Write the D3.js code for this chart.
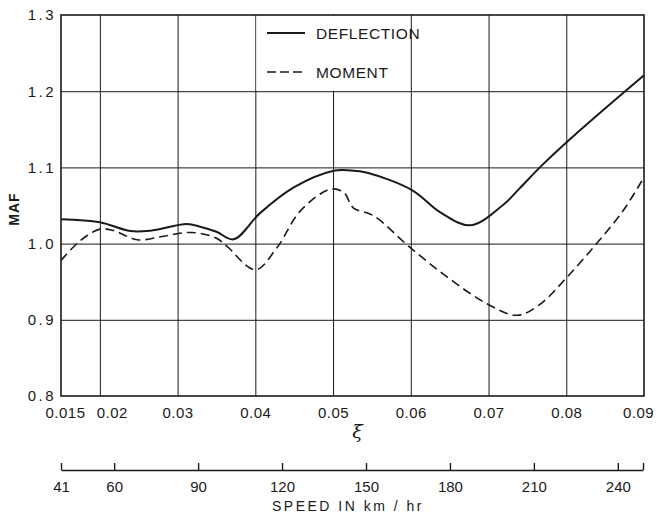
<!DOCTYPE html>
<html>
<head>
<meta charset="utf-8">
<script src="https://cdn.jsdelivr.net/npm/d3@7"></script>
<style>
  body { margin: 0; background: #fff; }
  text { font-family: "Liberation Sans", Arial, sans-serif; fill: #1a1a1a; }
</style>
</head>
<body>
<div id="container"></div>
<script>
/* CONSTANTS AND GLOBALS */
const width = 661,
  height = 517,
  plotLeft = 61,
  plotRight = 644,
  plotTop = 15,
  plotBottom = 396,
  speedY = 470,
  ink = "#1a1a1a";

/* DATA */
const xiTicks = [0.015, 0.02, 0.03, 0.04, 0.05, 0.06, 0.07, 0.08, 0.09];
const mafTicks = [0.8, 0.9, 1.0, 1.1, 1.2, 1.3];
const speedTicks = [41, 60, 90, 120, 150, 180, 210, 240, 249]; // 249 = unlabeled end mark
const seriesNames = ["DEFLECTION", "MOMENT"];

const deflectionXi = [0.015, 0.02, 0.0239, 0.0265, 0.0312, 0.0329, 0.035, 0.0372, 0.0406, 0.045, 0.0501, 0.0522,
  0.0544, 0.0602, 0.0638, 0.0677, 0.0719, 0.074, 0.0768, 0.0818, 0.09];
const deflectionMaf = [1.032, 1.028, 1.0165, 1.017, 1.0258, 1.0222, 1.0156, 1.0056, 1.04, 1.074, 1.0955, 1.096,
  1.093, 1.07, 1.041, 1.024, 1.051, 1.0725, 1.102, 1.149, 1.221];

const momentXi = [0.015, 0.0175, 0.02, 0.0218, 0.0248, 0.0278, 0.0312, 0.0329, 0.035, 0.0364, 0.04, 0.0428,
  0.0458, 0.0497, 0.0514, 0.0526, 0.0552, 0.0599, 0.0647, 0.0698, 0.0737, 0.0767, 0.0801, 0.0839, 0.0873, 0.09];
const momentMaf = [0.978, 1.004, 1.019, 1.017, 1.005, 1.009, 1.0145, 1.0135, 1.007, 0.996, 0.9656, 0.995,
  1.043, 1.0715, 1.067, 1.047, 1.0366, 0.995, 0.956, 0.921, 0.906, 0.921, 0.956, 1.0, 1.043, 1.087];

const series = [
  { name: seriesNames[0], dash: null, points: deflectionXi.map((x, i) => [x, deflectionMaf[i]]) },
  { name: seriesNames[1], dash: "9,5", points: momentXi.map((x, i) => [x, momentMaf[i]]) }
];

const svg = d3.select("#container")
  .append("svg")
  .attr("width", width)
  .attr("height", height)
  .style("background-color", "#fff");

/* SCALES */
const xScale = d3.scaleLinear().domain([0.015, 0.09]).range([plotLeft, plotRight]);
const yScale = d3.scaleLinear().domain([0.8, 1.3]).range([plotBottom, plotTop]);
const speedScale = d3.scaleLinear().domain([41, 249]).range([plotLeft, plotRight - 1]);

/* GRID */
const xGrid = svg.append("g")
  .attr("transform", `translate(0,${plotBottom})`)
  .call(d3.axisBottom(xScale).tickValues(xiTicks.slice(1, -1)).tickSize(-(plotBottom - plotTop)).tickFormat(""));
xGrid.select(".domain").remove();
xGrid.selectAll("line").attr("stroke", ink).attr("stroke-width", 1);

const yGrid = svg.append("g")
  .attr("transform", `translate(${plotLeft},0)`)
  .call(d3.axisLeft(yScale).tickValues(mafTicks.slice(1, -1)).tickSize(-(plotRight - plotLeft)).tickFormat(""));
yGrid.select(".domain").remove();
yGrid.selectAll("line").attr("stroke", ink).attr("stroke-width", 1);

// legend panel hides the grid behind it
svg.append("rect")
  .attr("x", xScale(0.04) + 1)
  .attr("y", plotTop + 1)
  .attr("width", xScale(0.06) - xScale(0.04) - 2)
  .attr("height", yScale(1.2) - plotTop - 1.5)
  .attr("fill", "#fff");

// frame
svg.append("rect")
  .attr("x", plotLeft).attr("y", plotTop)
  .attr("width", plotRight - plotLeft).attr("height", plotBottom - plotTop)
  .attr("fill", "none").attr("stroke", ink).attr("stroke-width", 1.6);

/* TICK LABELS */
const xLab = svg.append("g")
  .attr("transform", `translate(0,${plotBottom})`)
  .call(d3.axisBottom(xScale).tickValues(xiTicks).tickSize(0).tickPadding(11).tickFormat(d => String(d)));
xLab.select(".domain").remove();
xLab.selectAll("text")
  .style("font-size", "15px").style("letter-spacing", "0.5px")
  .attr("dx", (d, i) => i === 0 ? 4 : i === 1 ? 12 : i === xiTicks.length - 1 ? -6 : 0);

const yLab = svg.append("g")
  .attr("transform", `translate(${plotLeft},0)`)
  .call(d3.axisLeft(yScale).tickValues(mafTicks).tickSize(0).tickPadding(5).tickFormat(d3.format(".1f")));
yLab.select(".domain").remove();
yLab.selectAll("text").style("font-size", "15px").style("letter-spacing", "2.5px");

svg.append("text")
  .attr("transform", `translate(19,209) rotate(-90)`)
  .attr("text-anchor", "middle")
  .style("font-size", "14px").style("font-weight", "bold").style("letter-spacing", "1px")
  .text("MAF");

svg.append("text")
  .attr("x", (plotLeft + plotRight) / 2 + 5)
  .attr("y", 438)
  .attr("text-anchor", "middle")
  .style("font-family", "'DejaVu Serif', serif").style("font-style", "italic").style("font-size", "19px")
  .text("ξ");

/* CURVES */
const line = d3.line()
  .x(d => xScale(d[0]))
  .y(d => yScale(d[1]))
  .curve(d3.curveCatmullRom.alpha(0.5));

svg.selectAll(".series")
  .data(series)
  .join("path")
  .attr("class", "series")
  .attr("d", d => line(d.points))
  .attr("fill", "none")
  .attr("stroke", ink)
  .attr("stroke-width", d => d.dash ? 1.6 : 2)
  .attr("stroke-dasharray", d => d.dash);

/* LEGEND */
const legend = svg.append("g");
series.forEach((s, i) => {
  const ly = 33 + i * 39;
  legend.append("line")
    .attr("x1", 267).attr("x2", 305).attr("y1", ly).attr("y2", ly)
    .attr("stroke", ink).attr("stroke-width", s.dash ? 1.6 : 2)
    .attr("stroke-dasharray", s.dash ? "9,4" : null);
  legend.append("text")
    .attr("x", 316).attr("y", ly).attr("dy", "0.36em")
    .style("font-size", "15.5px").style("letter-spacing", "0.6px")
    .text(s.name);
});

/* SPEED AXIS */
const sTicks = svg.append("g")
  .attr("transform", `translate(0,${speedY})`)
  .call(d3.axisTop(speedScale).tickValues(speedTicks).tickSize(7).tickSizeOuter(0).tickFormat(""));
sTicks.selectAll("line, path").attr("stroke", ink).attr("stroke-width", 1.4);

const sLab = svg.append("g")
  .attr("transform", `translate(0,${speedY})`)
  .call(d3.axisBottom(speedScale).tickValues(speedTicks.slice(0, -1)).tickSize(0).tickPadding(11));
sLab.select(".domain").remove();
sLab.selectAll("text").style("font-size", "15px");

svg.append("text")
  .attr("x", 348).attr("y", 506).attr("dy", "0.36em")
  .attr("text-anchor", "middle")
  .style("font-size", "14px").style("letter-spacing", "2.5px")
  .text("SPEED IN km / hr");
</script>
</body>
</html>
